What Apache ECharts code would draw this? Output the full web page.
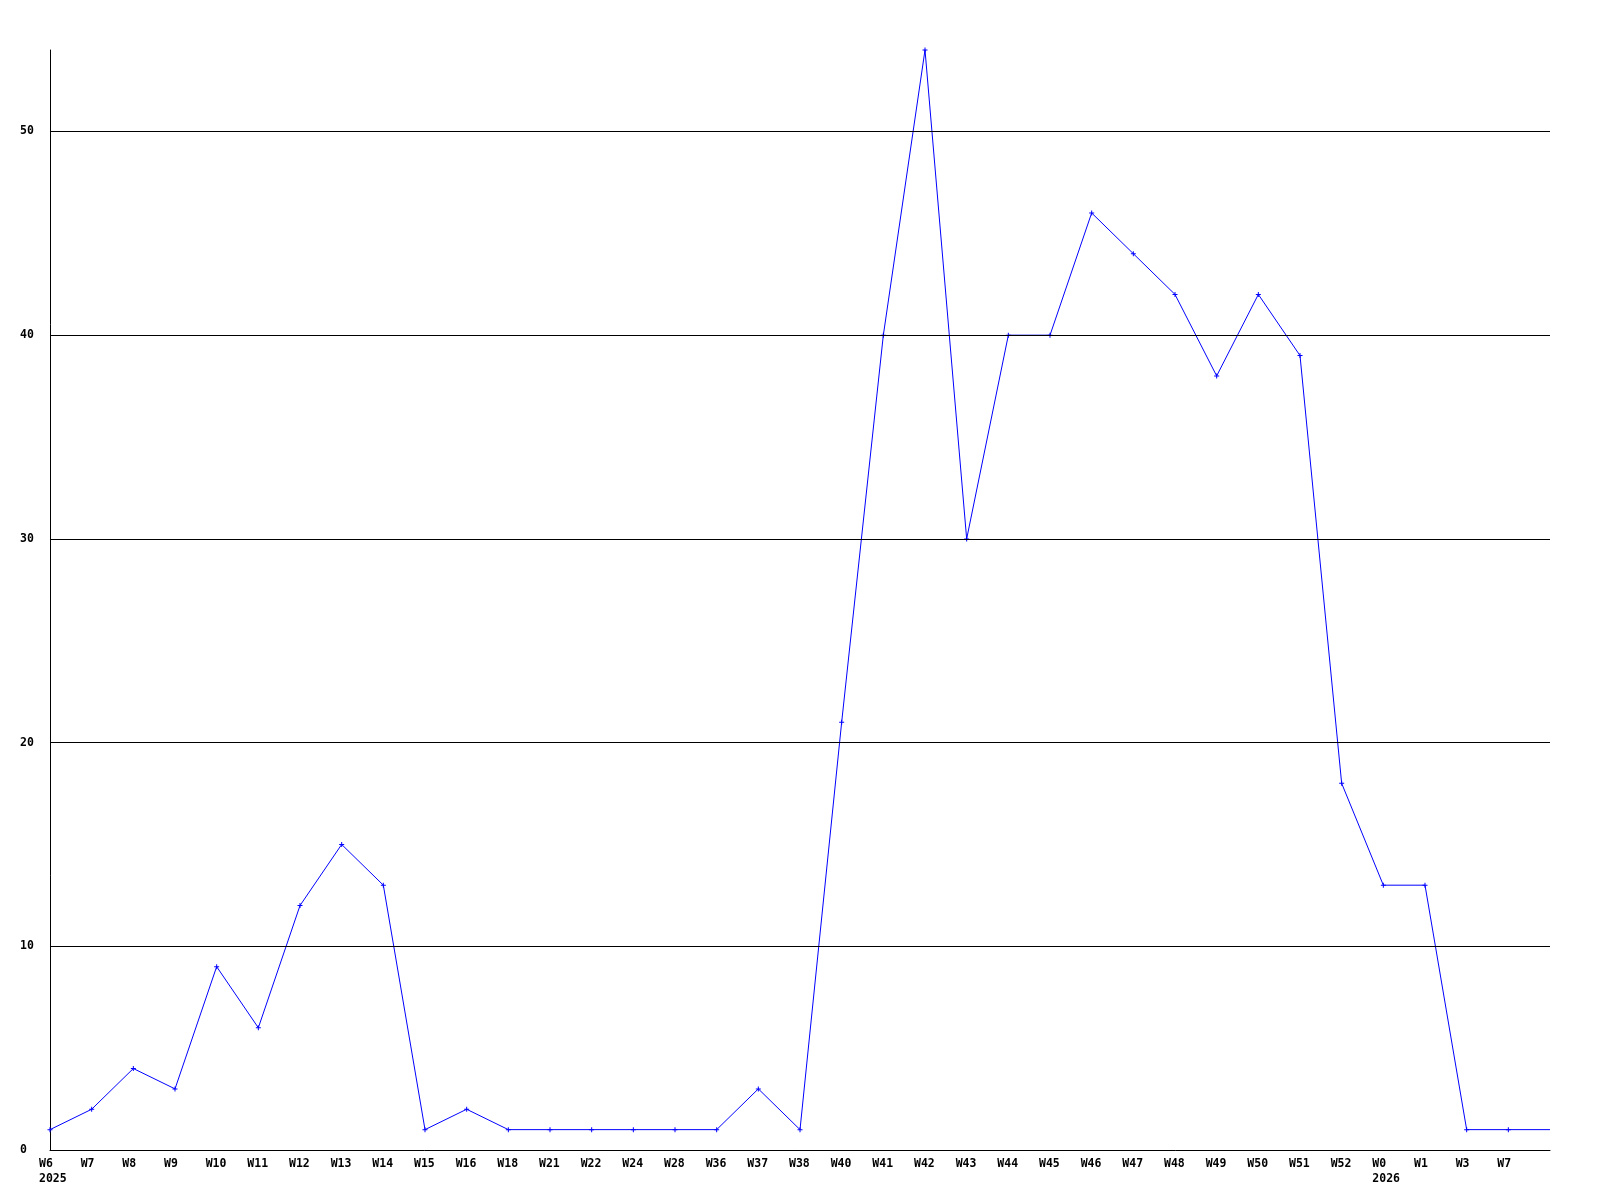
<!DOCTYPE html>
<html>
<head>
<meta charset="utf-8">
<script src="https://cdn.jsdelivr.net/npm/echarts@6/dist/echarts.min.js"></script>
<style>html,body{margin:0;padding:0;background:#fff}#c{width:1600px;height:1200px}</style>
</head>
<body>
<div id="c"></div>
<script>
const weeks = ['W6','W7','W8','W9','W10','W11','W12','W13','W14','W15','W16','W18','W21','W22','W24','W28','W36','W37','W38','W40','W41','W42','W43','W44','W45','W46','W47','W48','W49','W50','W51','W52','W0','W1','W3','W7',''];
const years = {0: '2025', 32: '2026'};
const counts = [1,2,4,3,9,6,12,15,13,1,2,1,1,1,1,1,1,3,1,21,40,54,30,40,40,46,44,42,38,42,39,18,13,13,1,1,1];
const gridValues = [10,20,30,40,50];
const yMax = 54;

const font = '"DejaVu Sans Mono", monospace';
const chart = echarts.init(document.getElementById('c'));
const seriesData = counts.map((v, i) => i === counts.length - 1 ? {value: v, symbol: 'none'} : v);
chart.setOption({
  animation: false,
  backgroundColor: '#fff',
  grid: {left: 50, right: 50, top: 50, bottom: 50, containLabel: false},
  xAxis: {
    type: 'category',
    data: weeks,
    boundaryGap: false,
    axisLine: {show: true, lineStyle: {color: '#000', width: 1}},
    axisTick: {show: false},
    splitLine: {show: false},
    axisLabel: {
      interval: 0,
      margin: 7,
      align: 'center',
      formatter: function (val, idx) {
        if (!val) return '';
        return years[idx] ? '{w|' + val + '}\n{w|' + years[idx] + '}' : '{w|' + val + '}';
      },
      rich: {
        w: {width: 22, align: 'left', fontFamily: font, fontWeight: 'bold', fontSize: 11.5, color: '#000', lineHeight: 15}
      }
    }
  },
  yAxis: {
    type: 'value',
    min: 0,
    max: yMax,
    interval: 10,
    axisLine: {show: true, lineStyle: {color: '#000', width: 1}},
    axisTick: {show: false},
    splitLine: {show: false},
    axisLabel: {
      margin: 30,
      align: 'left',
      fontFamily: font,
      fontWeight: 'bold',
      fontSize: 11.5,
      color: '#000',
      formatter: function (v) { return v === yMax ? '' : String(v); }
    }
  },
  series: [{
    type: 'line',
    data: seriesData,
    symbol: 'path://M2,0H3V2H5V3H3V5H2V3H0V2H2Z',
    symbolSize: 5,
    showSymbol: true,
    lineStyle: {color: '#0000ff', width: 1},
    itemStyle: {color: '#0000ff', borderWidth: 0},
    markLine: {
      silent: true,
      symbol: 'none',
      z: 10,
      label: {show: false},
      lineStyle: {color: '#000', width: 1, type: 'solid'},
      emphasis: {disabled: true},
      data: gridValues.map(v => ({yAxis: v}))
    }
  }]
});
</script>
</body>
</html>
